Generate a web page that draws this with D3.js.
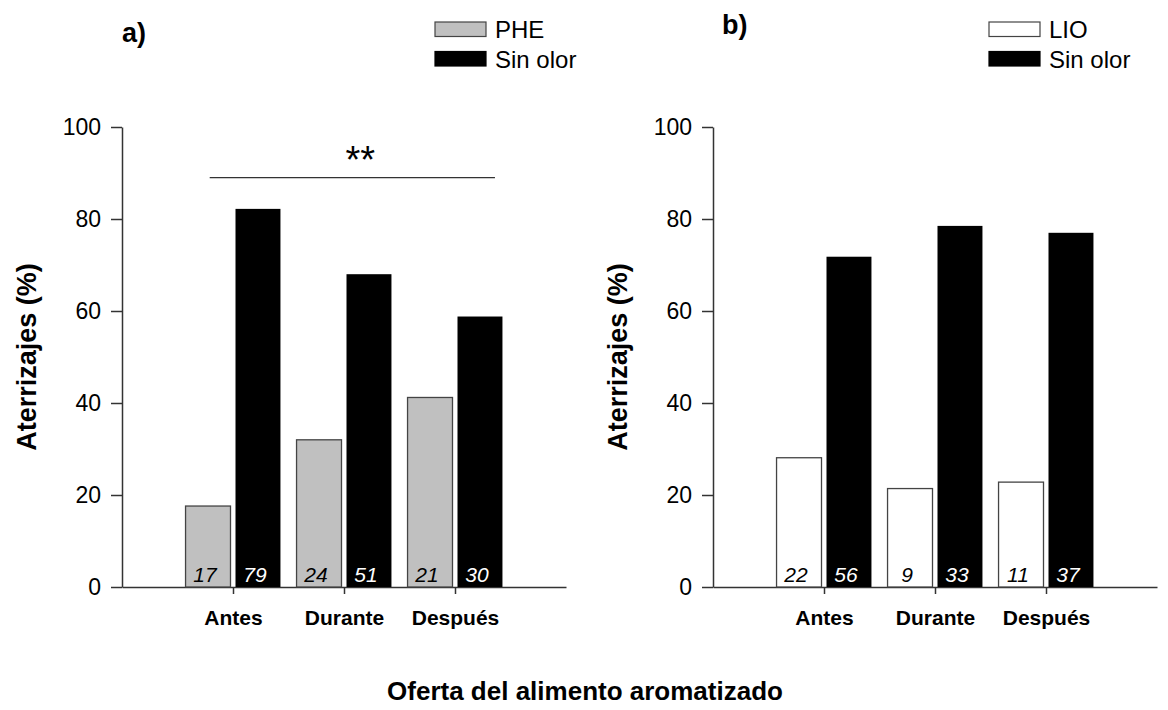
<!DOCTYPE html>
<html>
<head>
<meta charset="utf-8">
<script src="https://cdn.jsdelivr.net/npm/d3@7"></script>
<style>
  body { margin: 0; background: #fff; }
  svg { font-family: "Liberation Sans", Arial, sans-serif; }
</style>
</head>
<body>
<div id="chart"></div>
<script>
// categories and values
const categories = ["Antes", "Durante", "Después"];
const catPos = [1, 2, 3];

const pheValues = [17.6, 32.0, 41.2];
const sinOlorA = [82.2, 68.0, 58.8];
const pheN = [17, 24, 21];
const sinOlorAN = [79, 51, 30];

const lioValues = [28.1, 21.4, 22.8];
const sinOlorB = [71.8, 78.5, 77.0];
const lioN = [22, 9, 11];
const sinOlorBN = [56, 33, 37];

const yTicks = [0, 20, 40, 60, 80, 100];
// significance bracket in panel a (x positions in category units, y in %)
const sigRange = [0.79, 3.36];
const sigLevel = 89;

const width = 1168, height = 710;
const svg = d3.select("#chart").append("svg")
    .attr("width", width)
    .attr("height", height);

const yScale = d3.scaleLinear().domain([0, 100]).range([587, 127]);

function drawPanel(opts) {
    const g = svg.append("g");
    const xScale = d3.scaleLinear().domain([0, 4]).range([opts.left, opts.left + 444]);
    const bw = xScale(0.405) - xScale(0);
    const gap = 5;

    // y axis
    const yAxis = d3.axisLeft(yScale)
        .tickValues(yTicks)
        .tickSize(11)
        .tickSizeOuter(0)
        .tickPadding(10);
    const ya = g.append("g")
        .attr("transform", `translate(${opts.left},0)`)
        .call(yAxis);
    ya.selectAll("text").attr("font-size", 23).attr("fill", "#000").attr("font-family", "Liberation Sans, Arial, sans-serif");
    ya.selectAll("line, path").attr("stroke", "#333").attr("stroke-width", 1.5);

    // x axis
    const xAxis = d3.axisBottom(xScale)
        .tickValues(catPos)
        .tickFormat((d, i) => categories[i])
        .tickSize(7)
        .tickSizeOuter(0)
        .tickPadding(16);
    const xa = g.append("g")
        .attr("transform", `translate(0,${yScale(0)})`)
        .call(xAxis);
    xa.selectAll("text").attr("font-size", 21).attr("font-weight", "bold").attr("fill", "#000").attr("font-family", "Liberation Sans, Arial, sans-serif");
    xa.selectAll("line, path").attr("stroke", "#333").attr("stroke-width", 1.5);

    // bars
    const rows = categories.map((c, i) => ({
        pos: catPos[i], odor: opts.odor[i], none: opts.none[i],
        odorN: opts.odorN[i], noneN: opts.noneN[i]
    }));

    g.selectAll(".odor").data(rows).join("rect")
        .attr("class", "odor")
        .attr("x", d => xScale(d.pos) - gap / 2 - bw)
        .attr("y", d => yScale(d.odor))
        .attr("width", bw)
        .attr("height", d => yScale(0) - yScale(d.odor))
        .attr("fill", opts.odorFill)
        .attr("stroke", "#444")
        .attr("stroke-width", 1.3);

    g.selectAll(".none").data(rows).join("rect")
        .attr("class", "none")
        .attr("x", d => xScale(d.pos) + gap / 2)
        .attr("y", d => yScale(d.none))
        .attr("width", bw)
        .attr("height", d => yScale(0) - yScale(d.none))
        .attr("fill", "#000");

    // sample sizes inside bars
    g.selectAll(".odorN").data(rows).join("text")
        .attr("x", d => xScale(d.pos) - gap / 2 - bw / 2 - 3)
        .attr("y", yScale(0) - 5)
        .attr("text-anchor", "middle")
        .attr("font-size", 21)
        .attr("font-style", "italic")
        .attr("fill", "#000")
        .text(d => d.odorN);

    g.selectAll(".noneN").data(rows).join("text")
        .attr("x", d => xScale(d.pos) + gap / 2 + bw / 2 - 3)
        .attr("y", yScale(0) - 5)
        .attr("text-anchor", "middle")
        .attr("font-size", 21)
        .attr("font-style", "italic")
        .attr("fill", "#fff")
        .text(d => d.noneN);

    // panel label
    g.append("text")
        .attr("x", opts.labelX)
        .attr("y", opts.labelY)
        .attr("font-size", 27)
        .attr("font-weight", "bold")
        .text(opts.label);

    // y title
    g.append("text")
        .attr("transform", `translate(${opts.left - 86},357) rotate(-90)`)
        .attr("text-anchor", "middle")
        .attr("font-size", 27)
        .attr("font-weight", "bold")
        .text("Aterrizajes (%)");

    // legend
    const leg = g.append("g");
    const items = [
        { name: opts.odorName, fill: opts.odorFill, stroke: "#444" },
        { name: "Sin olor", fill: "#000", stroke: "#000" }
    ];
    items.forEach((it, i) => {
        leg.append("rect")
            .attr("x", opts.legendX)
            .attr("y", 22 + i * 29.5)
            .attr("width", 51)
            .attr("height", 14.5)
            .attr("fill", it.fill)
            .attr("stroke", it.stroke)
            .attr("stroke-width", 1.2);
        leg.append("text")
            .attr("x", opts.legendX + 60)
            .attr("y", 38 + i * 29.5)
            .attr("font-size", 24)
            .text(it.name);
    });

    return xScale;
}

const xa = drawPanel({
    left: 122, odor: pheValues, none: sinOlorA, odorN: pheN, noneN: sinOlorAN,
    odorFill: "#c0c0c0", odorName: "PHE", label: "a)", labelX: 122, labelY: 42, legendX: 435
});

drawPanel({
    left: 713, odor: lioValues, none: sinOlorB, odorN: lioN, noneN: sinOlorBN,
    odorFill: "#fff", odorName: "LIO", label: "b)", labelX: 722, labelY: 34, legendX: 989
});

// significance bracket, panel a
svg.append("line")
    .attr("x1", xa(sigRange[0]))
    .attr("x2", xa(sigRange[1]))
    .attr("y1", yScale(sigLevel))
    .attr("y2", yScale(sigLevel))
    .attr("stroke", "#333")
    .attr("stroke-width", 1.3);
svg.append("text")
    .attr("x", (xa(sigRange[0]) + xa(sigRange[1])) / 2 + 8)
    .attr("y", yScale(sigLevel) - 5)
    .attr("text-anchor", "middle")
    .attr("font-size", 38)
    .text("**");

// shared x title
svg.append("text")
    .attr("x", 585)
    .attr("y", 700)
    .attr("text-anchor", "middle")
    .attr("font-size", 26)
    .attr("font-weight", "bold")
    .text("Oferta del alimento aromatizado");
</script>
</body>
</html>
